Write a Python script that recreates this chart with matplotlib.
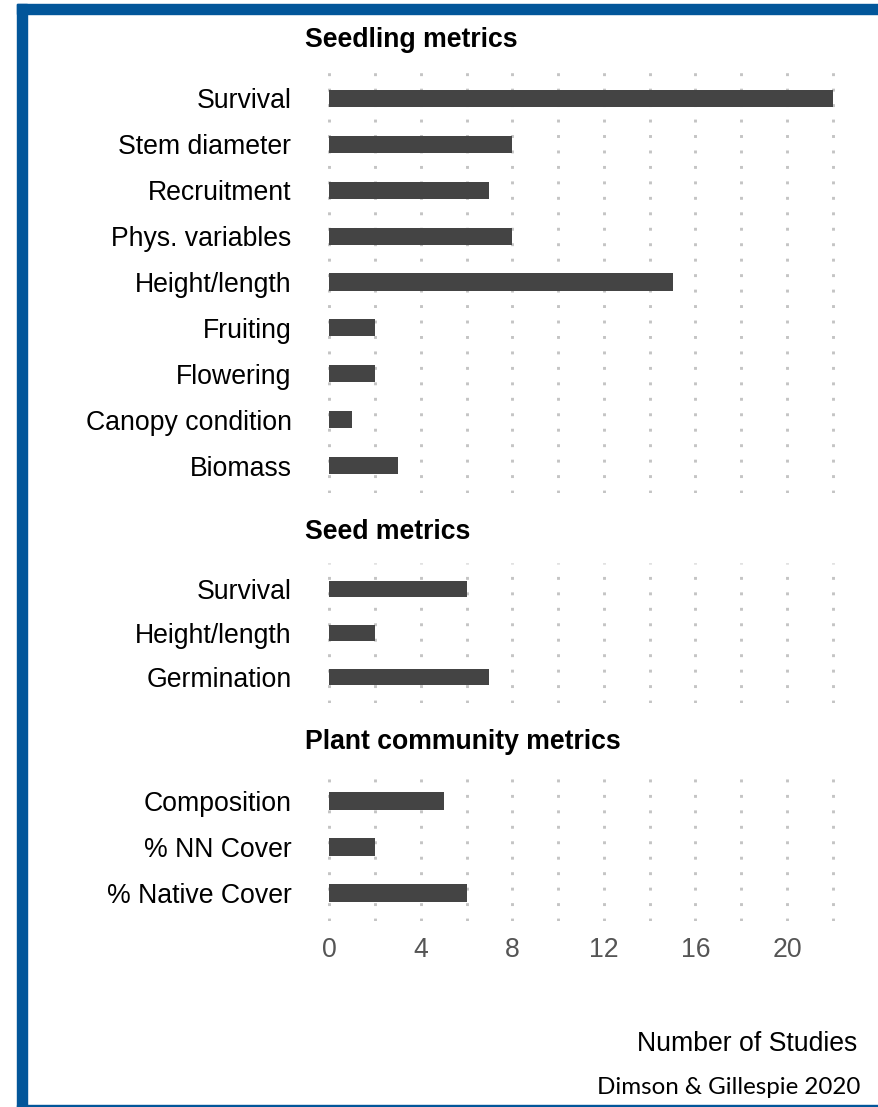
import matplotlib.pyplot as plt
from matplotlib.patches import Rectangle

# data
seedling_labels = ["Survival", "Stem diameter", "Recruitment", "Phys. variables",
                   "Height/length", "Fruiting", "Flowering", "Canopy condition", "Biomass"]
seedling_counts = [22, 8, 7, 8, 15, 2, 2, 1, 3]
seed_labels = ["Survival", "Height/length", "Germination"]
seed_counts = [6, 2, 7]
community_labels = ["Composition", "% NN Cover", "% Native Cover"]
community_counts = [5, 2, 6]
x_ticks = [0, 4, 8, 12, 16, 20]

W, H = 879, 1107
fig = plt.figure(figsize=(W / 100, H / 100), dpi=100)
plt.rcParams['font.family'] = ['Liberation Sans', 'DejaVu Sans']

FS = 19.2
bar_col = "#444444"
blue = "#02569a"


def px_axes(top, bottom, left=304, right=858):
    return fig.add_axes([left / W, 1 - bottom / H, (right - left) / W, (bottom - top) / H])


def panel(ax, labels, counts, show_x=False):
    n = len(labels)
    ys = list(range(n, 0, -1))
    ax.barh(ys, counts, height=0.37, color=bar_col, zorder=3)
    ax.set_ylim(0.4, n + 0.6)
    ax.set_xlim(-1.1, 23.1)
    ax.set_yticks(ys)
    ax.set_yticklabels(labels, fontsize=FS, color="black")
    ax.set_xticks(x_ticks)
    ax.set_xticks([2, 6, 10, 14, 18, 22], minor=True)
    ax.grid(axis="x", which="both", color="#c4c4c4", linewidth=2.1,
            linestyle=(0, (1, 4.3)), zorder=0)
    ax.grid(axis="y", visible=False)
    ax.tick_params(axis="both", which="both", length=0)
    ax.tick_params(axis="y", pad=9)
    if show_x:
        ax.tick_params(axis="x", labelsize=FS, labelcolor="#555555", pad=12)
    else:
        ax.tick_params(axis="x", labelbottom=False)
    for s in ax.spines.values():
        s.set_visible(False)


ax1 = px_axes(70.5, 493.5)
panel(ax1, seedling_labels, seedling_counts)
ax2 = px_axes(562.6, 703.4)
panel(ax2, seed_labels, seed_counts)
ax3 = px_axes(773.4, 920.6)
panel(ax3, community_labels, community_counts, show_x=True)

fig.text(305 / W, 1 - 40 / H, "Seedling metrics", fontsize=FS, fontweight="bold", va="center")
fig.text(305 / W, 1 - 532 / H, "Seed metrics", fontsize=FS, fontweight="bold", va="center")
fig.text(305 / W, 1 - 742 / H, "Plant community metrics", fontsize=FS, fontweight="bold", va="center")

fig.text(857 / W, 1 - 1044 / H, "Number of Studies", fontsize=19.2, ha="right", va="center")
fig.text(860 / W, 1 - 1087 / H, "Dimson & Gillespie 2020", fontsize=17.4,
         family=["Lato", "DejaVu Sans"], ha="right", va="center")

# blue frame
fig.patches.append(Rectangle((17 / W, 1 - 14 / H), 1, 10 / H, transform=fig.transFigure,
                             color=blue, zorder=10))
fig.patches.append(Rectangle((17 / W, 0), 10 / W, 1 - 4 / H, transform=fig.transFigure,
                             color=blue, zorder=10))
fig.patches.append(Rectangle((17 / W, 0), 1, 2 / H, transform=fig.transFigure,
                             color=blue, zorder=10))

fig.savefig("out.png", dpi=100)
